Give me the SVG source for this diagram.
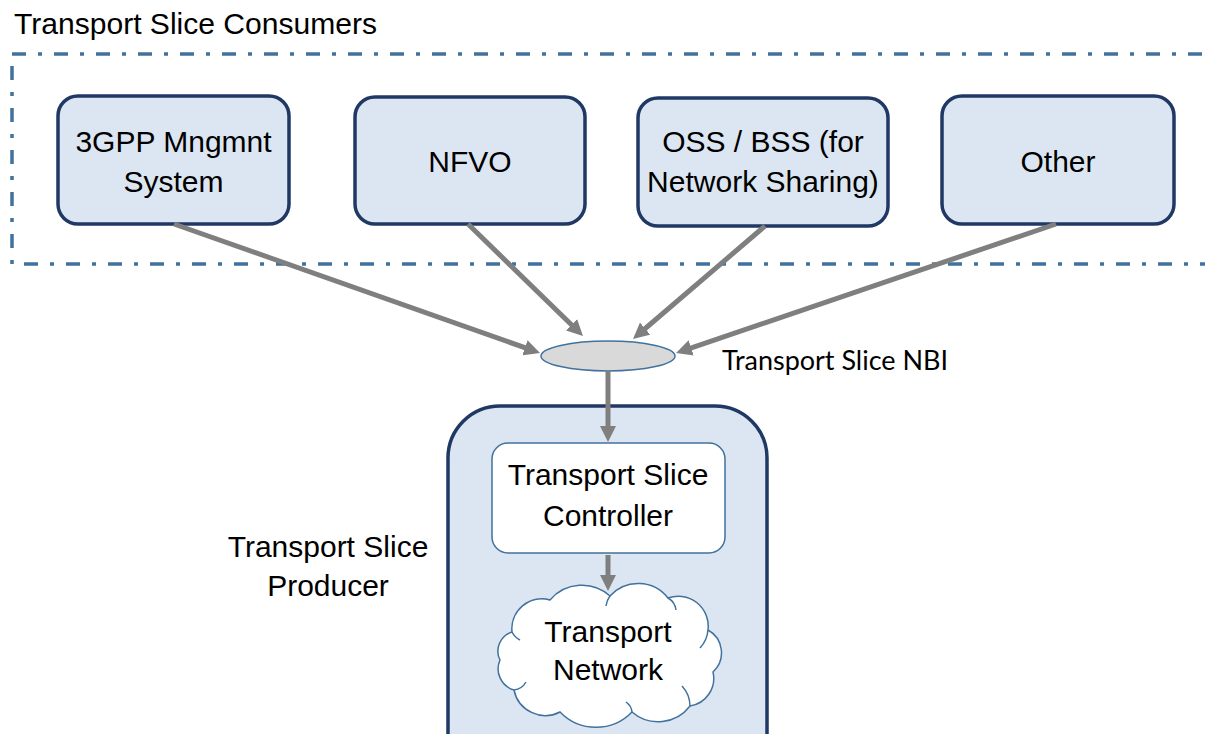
<svg xmlns="http://www.w3.org/2000/svg" width="1205" height="734" viewBox="0 0 1205 734">
<defs>
<style>
.box{fill:#dce6f2;stroke:#203864;stroke-width:3.5}
.t{font-family:"Liberation Sans",Arial,sans-serif;font-size:30px;fill:#000;text-anchor:middle}
.conn{stroke:#7f7f7f;stroke-width:5;fill:none;marker-end:url(#ah)}
.thin{stroke:#41719c;stroke-width:1.5}
</style>
<marker id="ah" markerUnits="userSpaceOnUse" viewBox="0 0 16 16" markerWidth="16" markerHeight="16" refX="6" refY="8" orient="auto">
<path d="M0,0 L16,8 L0,16 z" fill="#7f7f7f"/>
</marker>
</defs>
<rect width="1205" height="734" fill="#fff"/>

<g id="consumers-group">
<rect x="12" y="54" width="1210" height="210" fill="none" stroke="#41719c" stroke-width="3.5" stroke-dasharray="14 12 4 12"/>
<text x="14" y="34" style="font-family:'Liberation Sans',Arial,sans-serif;font-size:30px" textLength="363" lengthAdjust="spacingAndGlyphs">Transport Slice Consumers</text>
</g>

<g id="node-3gpp">
<rect class="box" x="58" y="96" width="231" height="128" rx="20"/>
<text class="t" x="173.5" y="152">3GPP Mngmnt</text>
<text class="t" x="173.5" y="192">System</text>
</g>
<g id="node-nfvo">
<rect class="box" x="355" y="97" width="230" height="127" rx="20"/>
<text class="t" x="470" y="172">NFVO</text>
</g>
<g id="node-oss">
<rect class="box" x="638" y="98" width="250" height="128" rx="20"/>
<text class="t" x="763" y="152">OSS / BSS (for</text>
<text class="t" x="763" y="192">Network Sharing)</text>
</g>
<g id="node-other">
<rect class="box" x="942" y="96" width="232" height="128" rx="20"/>
<text class="t" x="1058" y="172">Other</text>
</g>

<g id="node-producer">
<rect class="box" x="448" y="406" width="319" height="380" rx="52"/>
<text class="t" x="328" y="557">Transport Slice</text>
<text class="t" x="328" y="596">Producer</text>
</g>

<g id="node-controller">
<rect x="492" y="443" width="233" height="110" rx="16" fill="#fff" class="thin"/>
<text class="t" x="608" y="485">Transport Slice</text>
<text class="t" x="608" y="526">Controller</text>
</g>

<g id="node-network">
<path class="thin" fill="#fff" d="M512,632 A30,30 0 0 1 550,600 A42,42 0 0 1 610,596 A38,38 0 0 1 668,598 A30,30 0 0 1 708,630 A26,26 0 0 1 713,672 A28,28 0 0 1 690,706 A40,40 0 0 1 632,712 A50,50 0 0 1 560,712 A32,32 0 0 1 514,690 A22,22 0 0 1 500,660 A20,20 0 0 1 512,632 Z"/>
<path fill="none" class="thin" d="M512,632 A18,18 0 0 0 520,640 M610,596 A20,20 0 0 0 606,606 M668,598 A16,16 0 0 1 676,610 M708,630 A30,30 0 0 1 700,648 M690,706 A30,30 0 0 0 682,686 M632,712 A14,14 0 0 0 626,702 M514,690 A16,16 0 0 0 526,682"/>
<text class="t" x="608" y="642">Transport</text>
<text class="t" x="608" y="680">Network</text>
</g>

<g id="node-nbi">
<ellipse cx="608" cy="356" rx="67" ry="15" fill="#d9d9d9" class="thin"/>
<text x="722" y="370" style="font-family:Lato,'Open Sans',sans-serif;font-size:26px" textLength="226" lengthAdjust="spacingAndGlyphs">Transport Slice NBI</text>
</g>

<g id="connectors">
<line class="conn" x1="174" y1="224" x2="530.6" y2="349.7"/>
<line class="conn" x1="468" y1="224" x2="575.8" y2="329"/>
<line class="conn" x1="765" y1="226" x2="640.6" y2="332.5"/>
<line class="conn" x1="1056" y1="224" x2="685.5" y2="349.8"/>
<line class="conn" x1="608" y1="371" x2="608" y2="432"/>
<line class="conn" x1="608" y1="555" x2="608" y2="581"/>
</g>
</svg>
